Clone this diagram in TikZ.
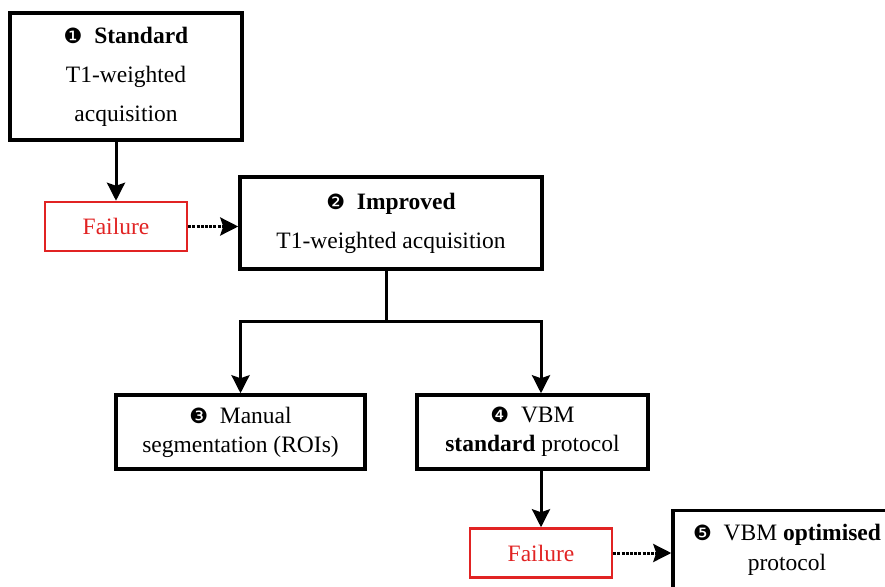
\documentclass[tikz,border=0pt]{standalone}
\usepackage{fontspec}
\setmainfont{Liberation Serif}
\newfontfamily\dingfont{DejaVu Sans}
\usetikzlibrary{arrows.meta,positioning}
\definecolor{failred}{RGB}{225,35,35}
\newcommand{\StepNum}[1]{{\dingfont\fontsize{21}{21}\selectfont #1}\hspace{0.5em}}
\tikzstyle{stage} = [draw, line width=3.5pt, align=center, inner sep=0pt, font=\fontsize{23.5}{28}\selectfont]
\tikzstyle{fail} = [draw=failred, line width=2.5pt, text=failred, inner sep=0pt, minimum width=142pt, minimum height=49pt, font=\fontsize{23.5}{28}\selectfont]
\tikzstyle{link} = [line width=3pt, -{Stealth[length=18pt,width=18pt,inset=3pt]}]
\tikzstyle{retry} = [link, dash pattern=on 3pt off 1.2pt]

\begin{document}
\begin{tikzpicture}[x=1pt,y=-1pt]
\clip (0,0) rectangle (885,586);

% Define nodes
\node[stage, minimum width=232pt, minimum height=127pt] (std)  at (126,76.5)
  {\StepNum{❶}\textbf{Standard}\\[11pt] T1-weighted\\[11pt] acquisition};
\node[fail]                                             (fail1) at (116,226.5) {Failure};
\node[stage, minimum width=302pt, minimum height=92pt]  (impr) at (391,223)
  {\StepNum{❷}\textbf{Improved}\\[11pt] T1-weighted acquisition};
\node[stage, minimum width=249pt, minimum height=74pt]  (manual) at (240.5,432)
  {\StepNum{❸}Manual\\[1pt] segmentation (ROIs)};
\node[stage, minimum width=231pt, minimum height=74pt]  (vbmstd) at (532.5,432)
  {\StepNum{❹}VBM\\[1pt] \textbf{standard} protocol};
\node[fail]                                             (fail2) at (541,553) {Failure};
\node[stage, minimum width=228pt, minimum height=79pt]  (vbmopt) at (787,550)
  {\StepNum{❺}VBM \textbf{optimised}\\[2pt] protocol};

\coordinate (split) at (386,321);

% Edges
\draw[link]  (fail1 |- std.south) -- (fail1.north);
\draw[retry] (fail1.east) -- (fail1.east -| impr.west);
\draw[line width=3pt] (split |- impr.south) -- (split);
\draw[link]  (split) -| (manual.north);
\draw[link]  (split) -| (fail2 |- vbmstd.north);
\draw[link]  (fail2 |- vbmstd.south) -- (fail2.north);
\draw[retry] (fail2.east) -- (fail2.east -| vbmopt.west);

\end{tikzpicture}
\end{document}
